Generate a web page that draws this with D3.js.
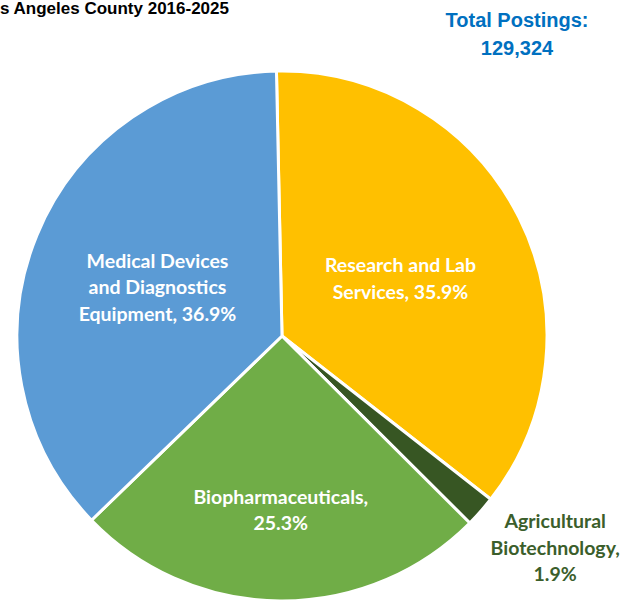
<!DOCTYPE html>
<html>
<head>
<meta charset="utf-8">
<script src="https://cdn.jsdelivr.net/npm/d3@7"></script>
<style>
  html, body { margin: 0; padding: 0; background: #fff; }
  svg { display: block; }
</style>
</head>
<body>
<svg id="chart" width="629" height="600"></svg>
<script>
(function() {

  // data
  const categories = [
    'Research and Lab Services',
    'Agricultural Biotechnology',
    'Biopharmaceuticals',
    'Medical Devices and Diagnostics Equipment'
  ];
  const shares = [35.9, 1.9, 25.3, 36.9];
  const labelLines = [
    ['Research and Lab', 'Services, 35.9%'],
    ['Agricultural', 'Biotechnology,', '1.9%'],
    ['Biopharmaceuticals,', '25.3%'],
    ['Medical Devices', 'and Diagnostics', 'Equipment, 36.9%']
  ];
  const titleText = 's Angeles County 2016-2025';
  const totalLines = ['Total Postings:', '129,324'];

  const colors = ['#FFC000', '#375623', '#70AD47', '#5B9BD5'];
  const labelColors = ['#ffffff', '#3B5E2B', '#ffffff', '#ffffff'];
  const labelRadius = [0.5, 1.3, 0.65, 0.5]; // fraction of radius
  const labelNudge = [[0, 2], [15, -16], [0, 2], [-2, 2]];

  const width = 629, height = 600;
  const cx = 282, cy = 336, r = 265;
  const offset = -1.2 * Math.PI / 180;

  const svg = d3.select('#chart');

  svg.append('text')
    .attr('x', 0)
    .attr('y', 14)
    .style('font-family', '"Liberation Sans", Arial, sans-serif')
    .style('font-weight', 'bold')
    .style('font-size', '17px')
    .attr('fill', '#000')
    .text(titleText);

  const total = svg.append('text')
    .attr('x', 517)
    .attr('text-anchor', 'middle')
    .style('font-family', '"Liberation Sans", Arial, sans-serif')
    .style('font-weight', 'bold')
    .style('font-size', '20px')
    .attr('fill', '#0070C0');
  totalLines.forEach((t, i) => {
    total.append('tspan')
      .attr('x', 517)
      .attr('y', 27 + i * 28)
      .text(t);
  });

  const pie = d3.pie()
    .sort(null)
    .startAngle(offset)
    .endAngle(2 * Math.PI + offset)
    .value(d => d);

  const arcs = pie(shares);
  const arc = d3.arc().innerRadius(0).outerRadius(r);

  const g = svg.append('g').attr('transform', `translate(${cx},${cy})`);

  g.selectAll('path.slice')
    .data(arcs)
    .join('path')
    .attr('class', 'slice')
    .attr('d', arc)
    .attr('fill', (d, i) => colors[i])
    .attr('stroke', '#fff')
    .attr('stroke-width', 3)
    .attr('stroke-linejoin', 'round');

  const lineH = 26.5;
  arcs.forEach((d, i) => {
    const lr = r * labelRadius[i];
    const la = d3.arc().innerRadius(lr).outerRadius(lr);
    const c = la.centroid(d);
    const x = c[0] + labelNudge[i][0];
    const y = c[1] + labelNudge[i][1];
    const lines = labelLines[i];
    const t = g.append('text')
      .attr('text-anchor', 'middle')
      .style('font-family', 'Lato, "Open Sans", sans-serif')
      .style('font-weight', 'bold')
      .style('font-size', '19.5px')
      .attr('fill', labelColors[i]);
    lines.forEach((ln, j) => {
      t.append('tspan')
        .attr('x', x)
        .attr('y', y + (j - (lines.length - 1) / 2) * lineH)
        .attr('dy', '0.35em')
        .text(ln);
    });
  });

})();
</script>
</body>
</html>
